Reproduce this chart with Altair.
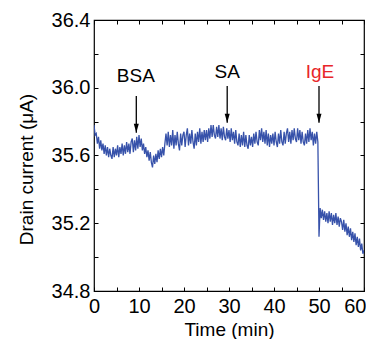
import altair as alt
import pandas as pd

# Drain current (uA), sampled every 0.25 min from 0 to 60 min
current = [
    # 0-5 min
    35.78, 35.72, 35.73, 35.67, 35.71, 35.64, 35.69, 35.63, 35.67, 35.61,
    35.66, 35.60, 35.65, 35.59, 35.64, 35.60, 35.58, 35.65, 35.59, 35.64,
    # 5-10 min
    35.60, 35.66, 35.59, 35.65, 35.61, 35.67, 35.60, 35.66, 35.61, 35.68,
    35.62, 35.67, 35.61, 35.68, 35.70, 35.62, 35.69, 35.63, 35.71, 35.64,
    # 10-15 min
    35.72, 35.65, 35.70, 35.63, 35.67, 35.61, 35.65, 35.59, 35.63, 35.57,
    35.62, 35.56, 35.53, 35.60, 35.55, 35.61, 35.56, 35.63, 35.58, 35.64,
    # 15-20 min
    35.59, 35.65, 35.60, 35.67, 35.73, 35.66, 35.74, 35.65, 35.72, 35.66,
    35.75, 35.64, 35.72, 35.66, 35.74, 35.67, 35.63, 35.73, 35.66, 35.72,
    # 20-25 min
    35.74, 35.65, 35.72, 35.76, 35.66, 35.73, 35.67, 35.75, 35.68, 35.64,
    35.73, 35.66, 35.74, 35.68, 35.76, 35.67, 35.74, 35.68, 35.75, 35.69,
    # 25-30 min
    35.75, 35.68, 35.76, 35.70, 35.78, 35.71, 35.78, 35.72, 35.70, 35.77,
    35.71, 35.78, 35.70, 35.76, 35.69, 35.77, 35.71, 35.69, 35.76, 35.70,
    # 30-35 min
    35.75, 35.68, 35.76, 35.69, 35.74, 35.67, 35.75, 35.68, 35.66, 35.73,
    35.65, 35.72, 35.66, 35.74, 35.65, 35.72, 35.66, 35.64, 35.72, 35.66,
    # 35-40 min
    35.71, 35.65, 35.73, 35.67, 35.74, 35.68, 35.66, 35.75, 35.69, 35.76,
    35.68, 35.74, 35.67, 35.75, 35.66, 35.73, 35.65, 35.72, 35.67, 35.73,
    # 40-45 min
    35.66, 35.74, 35.68, 35.65, 35.73, 35.67, 35.75, 35.68, 35.66, 35.74,
    35.67, 35.73, 35.76, 35.68, 35.74, 35.67, 35.75, 35.69, 35.76, 35.70,
    # 45-50 min
    35.68, 35.76, 35.69, 35.75, 35.67, 35.74, 35.68, 35.66, 35.73, 35.67,
    35.75, 35.68, 35.76, 35.69, 35.74, 35.66, 35.73, 35.67, 35.74, 35.68,
    # 50-55 min (IgE added)
    35.12, 35.29, 35.23, 35.28, 35.22, 35.27, 35.21, 35.26, 35.20, 35.27,
    35.21, 35.26, 35.19, 35.25, 35.20, 35.26, 35.19, 35.24, 35.18, 35.23,
    # 55-60 min
    35.21, 35.16, 35.22, 35.15, 35.20, 35.13, 35.18, 35.12, 35.17, 35.10,
    35.15, 35.09, 35.14, 35.07, 35.12, 35.06, 35.11, 35.04, 35.08, 35.02,
    35.04,
]
time_min = [round(i * 0.25, 2) for i in range(len(current))]

# Annotations
ann_labels = ["BSA", "SA", "IgE"]
ann_label_x = [9.3, 29.6, 50.2]
ann_label_y = [36.036, 36.056, 36.056]
ann_colors = ["#000000", "#000000", "#e8262a"]
arrow_x = [9.4, 29.6, 50.0]
arrow_top = [35.951, 36.01, 36.01]
arrow_tip = [35.735, 35.794, 35.794]

# Axis ticks
x_ticks = [0, 5, 10, 15, 20, 25, 30, 35, 40, 45, 50, 55, 60]
y_ticks = [34.8, 35.0, 35.2, 35.4, 35.6, 35.8, 36.0, 36.2, 36.4]
y_labels = ["34.8", "35.2", "35.6", "36.0", "36.4"]

df = pd.DataFrame({"t": time_min, "i": current})
ann = pd.DataFrame({"label": ann_labels, "lx": ann_label_x, "ly": ann_label_y,
                    "color": ann_colors, "ax": arrow_x, "atop": arrow_top,
                    "atip": arrow_tip})

xscale = alt.Scale(domain=[0, 60], nice=False, zero=False)
yscale = alt.Scale(domain=[34.8, 36.4], nice=False, zero=False)
FONT = "Liberation Sans"
TICK = 4

y_label_expr = ("indexof([" + ",".join("'%s'" % s for s in y_labels) +
                "], format(datum.value, '.1f')) >= 0 ? format(datum.value, '.1f') : ''")

line = alt.Chart(df).mark_line(color="#3752aa", strokeWidth=1.3, clip=True).encode(
    x=alt.X("t:Q", scale=xscale,
            axis=alt.Axis(orient="bottom", values=x_ticks, offset=-TICK, tickSize=TICK,
                          domain=False, grid=False, labelPadding=5, labelFlush=False,
                          labelAlign={"condition": {"test": "datum.value == 60",
                                                    "value": "right"},
                                      "value": "center"},
                          labelOffset={"condition": {"test": "datum.value == 60",
                                                     "value": 2},
                                       "value": 0},
                          labelExpr="datum.value % 10 == 0 ? datum.label : ''",
                          title="Time (min)", titleY=48, titleBaseline="alphabetic")),
    y=alt.Y("i:Q", scale=yscale,
            axis=alt.Axis(orient="left", values=y_ticks, offset=-TICK, tickSize=TICK,
                          domain=False, grid=False, labelPadding=4, labelFlush=False,
                          labelExpr=y_label_expr,
                          title="Drain current (μA)", titleX=-66, titleY=149,
                          titleBaseline="alphabetic")),
)

frame_axes = alt.Chart(df).mark_line(opacity=0).encode(
    x=alt.X("t:Q", scale=xscale,
            axis=alt.Axis(orient="top", values=x_ticks, offset=-TICK, tickSize=TICK,
                          domain=False, grid=False, labels=False, title=None)),
    y=alt.Y("i:Q", scale=yscale,
            axis=alt.Axis(orient="right", values=y_ticks, offset=-TICK, tickSize=TICK,
                          domain=False, grid=False, labels=False, title=None)),
)

texts = alt.Chart(ann).mark_text(font=FONT, fontSize=19, align="center",
                                 baseline="alphabetic").encode(
    x=alt.X("lx:Q", scale=xscale, axis=None),
    y=alt.Y("ly:Q", scale=yscale, axis=None),
    text="label:N",
    color=alt.Color("color:N", scale=None),
)

arrows = alt.Chart(ann).mark_rule(color="black", strokeWidth=1.3).encode(
    x=alt.X("ax:Q", scale=xscale, axis=None),
    y=alt.Y("atop:Q", scale=yscale, axis=None),
    y2="atip:Q",
)

heads = alt.Chart(ann).mark_point(shape="M-0.5,-1.8L0.5,-1.8L0,0Z", filled=True,
                                  color="black", opacity=1, size=100).encode(
    x=alt.X("ax:Q", scale=xscale, axis=None),
    y=alt.Y("atip:Q", scale=yscale, axis=None),
)

chart = alt.layer(line, frame_axes, arrows, heads, texts).resolve_axis(
    x="independent", y="independent"
).properties(
    width=270, height=271,
    padding={"left": 86, "top": 12, "right": 2, "bottom": 48},
    autosize=alt.AutoSizeParams(type="none"),
).configure_view(
    stroke="black", strokeWidth=1.2
).configure_axis(
    labelFont=FONT, labelFontSize=20, labelColor="black",
    titleFont=FONT, titleFontSize=19, titleFontWeight="normal", titleColor="black",
    tickColor="black", tickWidth=1,
)

chart.save("out.html", embed_options={"renderer": "svg", "actions": False})
